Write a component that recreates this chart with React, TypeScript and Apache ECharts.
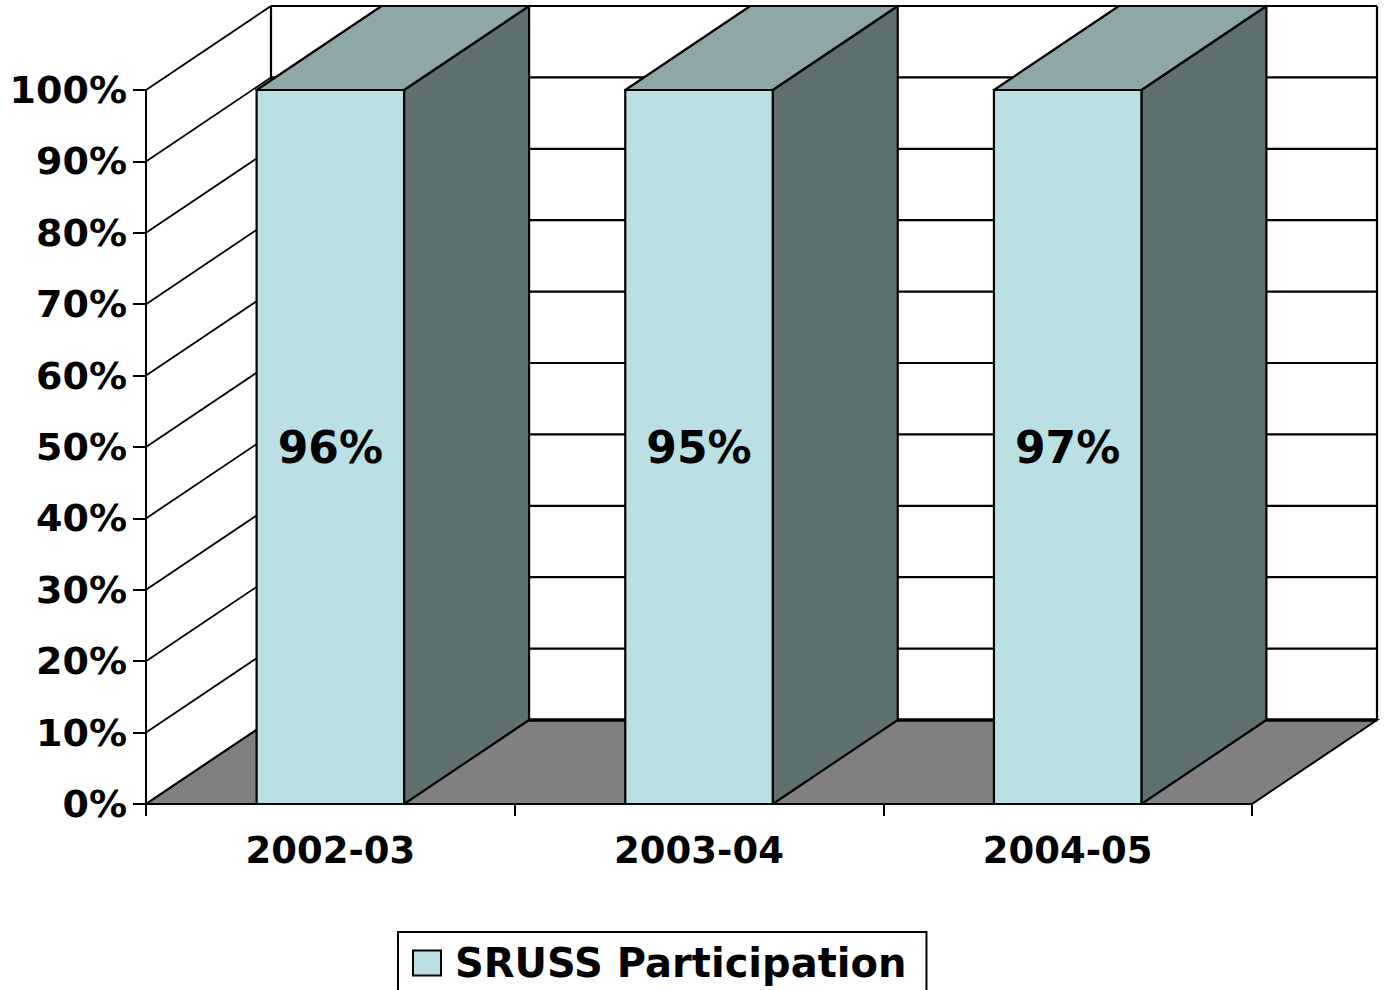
import React, { useEffect, useRef } from "react";
import * as echarts from "echarts";

const categories = ["2002-03", "2003-04", "2004-05"];
const participation = [0.96, 0.95, 0.97];
const seriesName = "SRUSS Participation";
const yTicks = [0, 0.1, 0.2, 0.3, 0.4, 0.5, 0.6, 0.7, 0.8, 0.9, 1.0];

const DX = 125;
const DY = -84;
const FONT = '"DejaVu Sans", "Liberation Sans", Arial, sans-serif';
const FRONT = "#BAE0E3";
const TOP = "#8EA8AA";
const SIDE = "#5F7070";
const FLOOR = "#808080";

export default function App() {
  const ref = useRef<HTMLDivElement>(null);

  useEffect(() => {
    if (!ref.current) return;
    const chart = echarts.init(ref.current, undefined, { renderer: "svg" });

    // 100% stacked: each single-series bar fills its stack total
    const barData = participation.map((v, i) => [i, v / v, v]);
    const wallData = yTicks.map((v) => [0, v]);

    const option: any = {
      animation: false,
      backgroundColor: "#ffffff",
      grid: { left: 146, right: 135, top: 90, bottom: 186 },
      legend: {
        left: 398,
        top: 932,
        padding: [11, 20, 20, 14],
        borderColor: "#000",
        borderWidth: 2,
        itemWidth: 28,
        itemHeight: 25,
        textStyle: {
          fontFamily: FONT,
          fontWeight: "bold",
          fontSize: 40,
          color: "#000",
          padding: [0, 0, 0, 9],
        },
        data: [
          {
            name: seriesName,
            icon: "rect",
            itemStyle: { color: FRONT, borderColor: "#000", borderWidth: 2 },
          },
        ],
      },
      xAxis: {
        type: "category",
        data: categories,
        boundaryGap: true,
        axisLine: { show: true, lineStyle: { color: "#000", width: 2 } },
        axisTick: { show: true, length: 12, interval: 0, lineStyle: { color: "#000", width: 2 } },
        axisLabel: {
          margin: 28,
          color: "#000",
          fontFamily: FONT,
          fontWeight: "bold",
          fontSize: 37,
        },
        splitLine: { show: false },
        z: 10,
      },
      yAxis: {
        type: "value",
        min: 0,
        max: 1,
        interval: 0.1,
        axisLine: { show: true, lineStyle: { color: "#000", width: 2 } },
        axisTick: { show: true, length: 13, lineStyle: { color: "#000", width: 2 } },
        axisLabel: {
          margin: 19,
          color: "#000",
          fontFamily: FONT,
          fontWeight: "bold",
          fontSize: 38,
          formatter: (v: number) => Math.round(v * 100) + "%",
        },
        splitLine: { show: false },
        z: 10,
      },
      series: [
        {
          type: "custom",
          name: "walls",
          silent: true,
          clip: false,
          z: 1,
          data: wallData,
          renderItem: (params: any, api: any) => {
            const cs = params.coordSys;
            const x0 = cs.x;
            const x1 = cs.x + cs.width;
            const v = api.value(1);
            const p = api.coord([0, v]);
            const y = p[1];
            const children: any[] = [];
            if (params.dataIndex === 0) {
              const yb = y;
              const yTop = api.coord([0, 1])[1];
              children.push({
                type: "polygon",
                shape: {
                  points: [
                    [x0, yb],
                    [x1, yb],
                    [x1 + DX, yb + DY],
                    [x0 + DX, yb + DY],
                  ],
                },
                style: { fill: FLOOR, stroke: "#000", lineWidth: 2 },
              });
              children.push({
                type: "line",
                shape: { x1: x0 + DX, y1: yb + DY, x2: x0 + DX, y2: yTop + DY },
                style: { stroke: "#000", lineWidth: 2.2 },
              });
              children.push({
                type: "line",
                shape: { x1: x1 + DX, y1: yb + DY, x2: x1 + DX, y2: yTop + DY },
                style: { stroke: "#000", lineWidth: 2.2 },
              });
            }
            children.push({
              type: "line",
              shape: { x1: x0 + DX, y1: y + DY, x2: x1 + DX, y2: y + DY },
              style: { stroke: "#000", lineWidth: v === 0 ? 3.5 : 2.2 },
            });
            children.push({
              type: "line",
              shape: { x1: x0, y1: y, x2: x0 + DX, y2: y + DY },
              style: { stroke: "#000", lineWidth: 1.8 },
            });
            return { type: "group", children };
          },
        },
        {
          type: "custom",
          name: seriesName,
          clip: false,
          z: 5,
          itemStyle: { color: FRONT, borderColor: "#000", borderWidth: 2 },
          data: barData,
          renderItem: (params: any, api: any) => {
            const i = api.value(0);
            const share = api.value(1);
            const raw = api.value(2);
            const base = api.coord([i, 0]);
            const top = api.coord([i, share]);
            const bw = api.size([1, 0])[0] * 0.4;
            const xl = base[0] - bw / 2;
            const xr = base[0] + bw / 2;
            const yb = base[1];
            const yt = top[1];
            return {
              type: "group",
              children: [
                {
                  type: "polygon",
                  shape: {
                    points: [
                      [xr, yt],
                      [xr + DX, yt + DY],
                      [xr + DX, yb + DY],
                      [xr, yb],
                    ],
                  },
                  style: { fill: SIDE, stroke: "#000", lineWidth: 2.2, lineJoin: "round" },
                },
                {
                  type: "polygon",
                  shape: {
                    points: [
                      [xl, yt],
                      [xr, yt],
                      [xr + DX, yt + DY],
                      [xl + DX, yt + DY],
                    ],
                  },
                  style: { fill: TOP, stroke: "#000", lineWidth: 2.2, lineJoin: "round" },
                },
                {
                  type: "rect",
                  shape: { x: xl, y: yt, width: xr - xl, height: yb - yt },
                  style: { fill: FRONT, stroke: "#000", lineWidth: 2.2 },
                },
                {
                  type: "text",
                  style: {
                    text: Math.round(raw * 100) + "%",
                    x: base[0],
                    y: (yb + yt) / 2,
                    align: "center",
                    verticalAlign: "middle",
                    textAlign: "center",
                    textVerticalAlign: "middle",
                    fill: "#000",
                    font: 'bold 44px "DejaVu Sans", "Liberation Sans", Arial, sans-serif',
                  },
                },
              ],
            };
          },
        },
      ],
    };

    chart.setOption(option);
    return () => chart.dispose();
  }, []);

  return (
    <div
      ref={ref}
      style={{ position: "fixed", left: 0, top: 0, width: 1387, height: 990, background: "#fff" }}
    />
  );
}
